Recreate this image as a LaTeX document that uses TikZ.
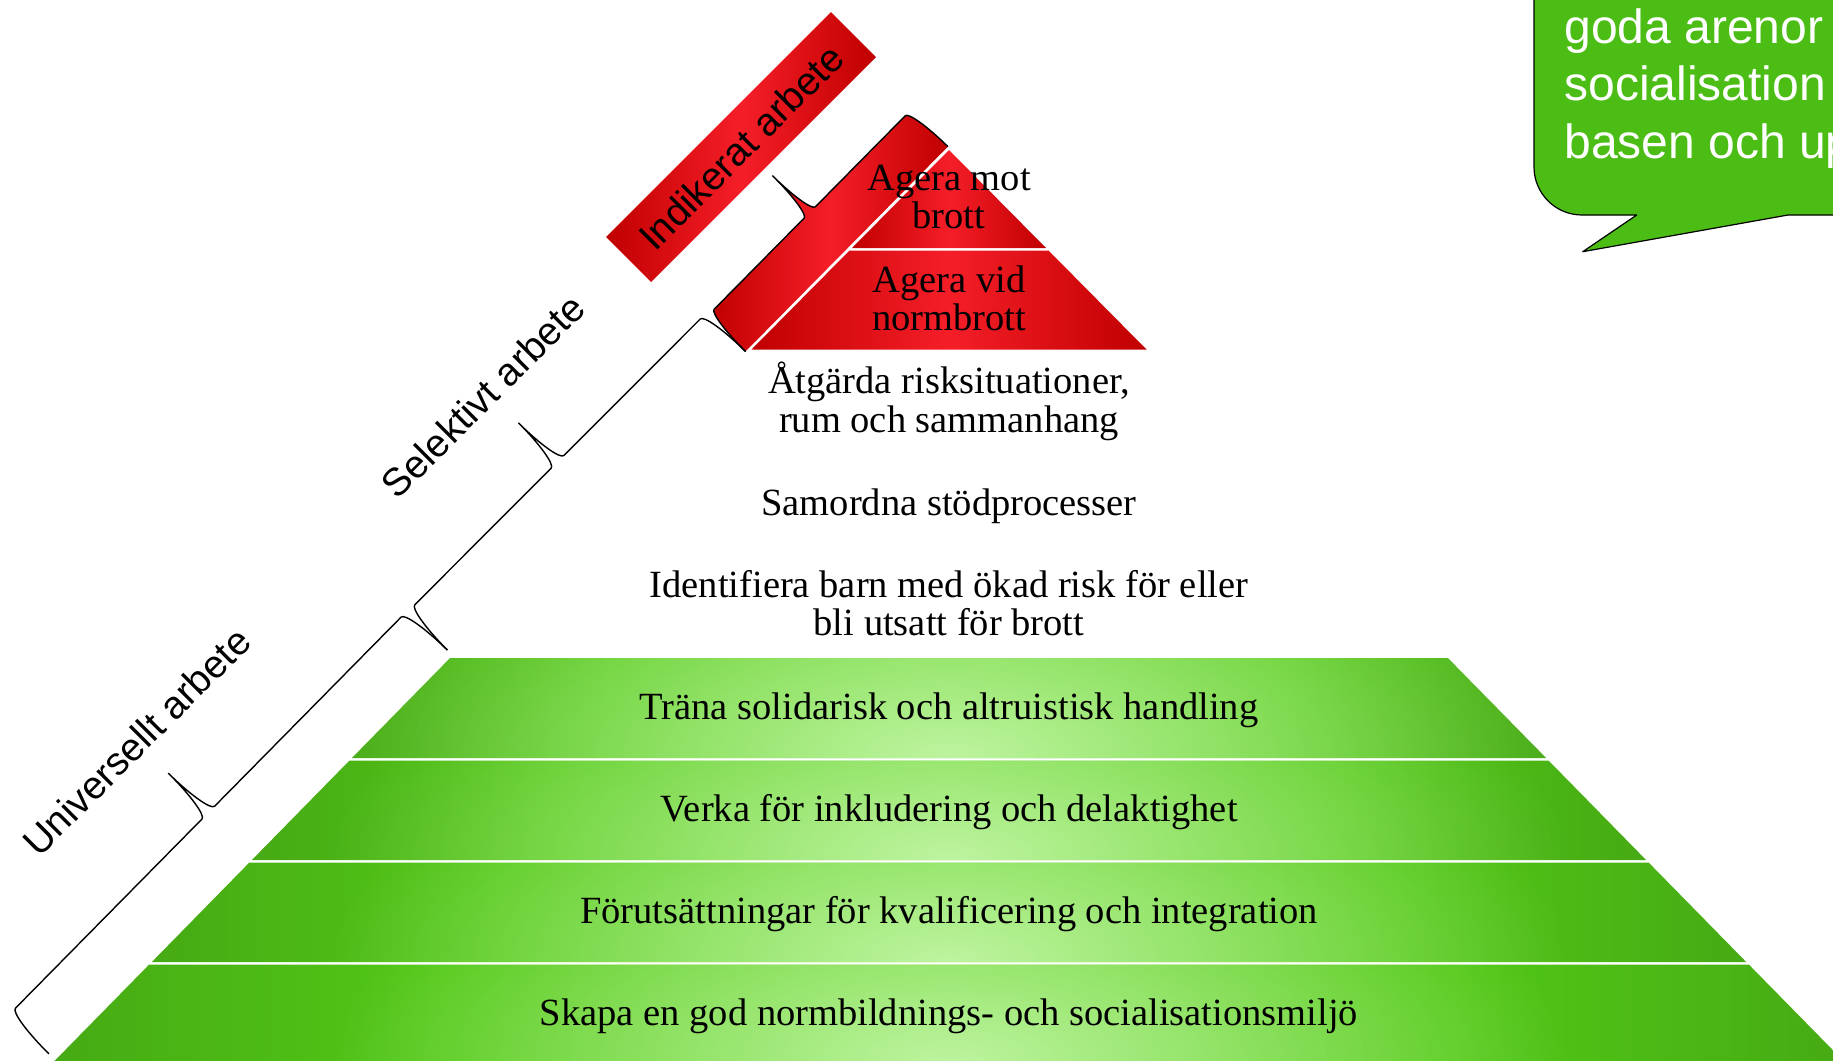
\documentclass[tikz,border=0pt]{standalone}
\usepackage{fontspec}
\setmainfont{Liberation Serif}
\setsansfont{Liberation Sans}
\usetikzlibrary{fadings}
\definecolor{gdark}{RGB}{38,100,8}
\definecolor{gdm}{RGB}{52,130,12}
\definecolor{gmid}{RGB}{70,170,20}
\definecolor{gbright}{RGB}{82,200,22}
\definecolor{gcenter}{RGB}{96,210,36}
\definecolor{gpale}{RGB}{190,244,160}
\definecolor{rdark}{RGB}{192,0,0}
\definecolor{rbright}{RGB}{245,30,40}
\definecolor{bubblegreen}{RGB}{76,189,21}
\pgfdeclarehorizontalshading{greenlayer}{100bp}{color(0bp)=(gdark); color(12bp)=(gdm); color(25bp)=(gmid); color(36bp)=(gbright); color(50bp)=(gcenter); color(64bp)=(gbright); color(75bp)=(gmid); color(88bp)=(gdm); color(100bp)=(gdark)}
\tikzfading[name=glowfade, inner color=transparent!0, outer color=transparent!100]
% brace curve in local coordinates: #1 = length, #2 = back offset, #3 = curl length
\newcommand\bracecurve[3]{(0,0) .. controls (0,{0.5523*#2}) and ({0.4477*#3},#2) .. (#3,#2)
 -- ({#1/2-#3},#2) .. controls ({#1/2-0.4477*#3},#2) and ({#1/2},{1.4477*#2}) .. ({#1/2},{2*#2})
 .. controls ({#1/2},{1.4477*#2}) and ({#1/2+0.4477*#3},#2) .. ({#1/2+#3},#2)
 -- ({#1-#3},#2) .. controls ({#1-0.4477*#3},#2) and (#1,{0.5523*#2}) .. (#1,0)}
\begin{document}
\begin{tikzpicture}[x=0.5pt,y=-0.5pt,
  serif/.style={font=\fontsize{19.25}{19}\selectfont, inner sep=0pt, anchor=base},
  sanslab/.style={font=\sffamily\fontsize{19.5}{23}\selectfont, inner sep=0pt, rotate=45},
  bubtext/.style={font=\sffamily\fontsize{24}{28}\selectfont, text=white, inner sep=0pt, anchor=base west},
  braceline/.style={draw=black, line width=0.7pt, line join=round},
  glayer/.style={shading=greenlayer},
  redlayer/.style={left color=rdark, right color=rdark, middle color=rbright},
  glow/.style={fill=gpale, path fading=glowfade}]
\useasboundingbox (0,0) rectangle (1833,1061);
\clip (0,0) rectangle (1833,1061);
\fill[white] (0,0) rectangle (1833,1061);

% green layers
\shade[glayer] (450.1,658) -- (1447.9,658) -- (1546.1,758) -- (351.9,758) -- cycle;
\begin{scope}\clip (450.1,658) -- (1447.9,658) -- (1546.1,758) -- (351.9,758) -- cycle;
\fill[glow] (949,758) ellipse [x radius=620, y radius=260];\end{scope}

\shade[glayer] (349.5,760.5) -- (1548.5,760.5) -- (1646.1,860) -- (251.9,860) -- cycle;
\begin{scope}\clip (349.5,760.5) -- (1548.5,760.5) -- (1646.1,860) -- (251.9,860) -- cycle;
\fill[glow] (949,860) ellipse [x radius=620, y radius=260];\end{scope}

\shade[glayer] (249.4,862.5) -- (1648.6,862.5) -- (1746.2,962) -- (151.8,962) -- cycle;
\begin{scope}\clip (249.4,862.5) -- (1648.6,862.5) -- (1746.2,962) -- (151.8,962) -- cycle;
\fill[glow] (949,962) ellipse [x radius=620, y radius=260];\end{scope}

\shade[glayer] (149.2,964.5) -- (1748.8,964.5) -- (1846.5,1064) -- (51.5,1064) -- cycle;
\begin{scope}\clip (149.2,964.5) -- (1748.8,964.5) -- (1846.5,1064) -- (51.5,1064) -- cycle;
\fill[glow] (949,1064) ellipse [x radius=620, y radius=260];\end{scope}

% red layers
\shade[redlayer] (949,150) -- (1046,248) -- (852,248) -- cycle;
\shade[redlayer] (849.5,250.5) -- (1048.5,250.5) -- (1146.5,349.5) -- (751.5,349.5) -- cycle;

% indicated brace (red filled): key points in the brace's own frame
\begin{scope}[shift={(947.9,146.6)}, rotate=225.35]
  \coordinate (i0) at (0,0);
  \coordinate (i0a) at (0,{0.5523*52});
  \coordinate (i0b) at ({0.4477*8},52);
  \coordinate (i1) at (8,52);
  \coordinate (i2) at (136,52);
  \coordinate (i2a) at ({144-0.4477*8},52);
  \coordinate (i2b) at (144,{1.4477*52});
  \coordinate (i3) at (144,104);
  \coordinate (i3a) at ({144+0.4477*8},52);
  \coordinate (i4) at (152,52);
  \coordinate (i5) at (280,52);
  \coordinate (i5a) at ({288-0.4477*8},52);
  \coordinate (i5b) at (288,{0.5523*52});
  \coordinate (i6) at (288,0);
\end{scope}
\shade[redlayer] (i0) .. controls (i0a) and (i0b) .. (i1) -- (i2) .. controls (i2a) and (i2b) .. (i3)
  .. controls (i2b) and (i3a) .. (i4) -- (i5) .. controls (i5a) and (i5b) .. (i6) -- cycle;
\draw[braceline] (i0) .. controls (i0a) and (i0b) .. (i1) -- (i2) .. controls (i2a) and (i2b) .. (i3)
  .. controls (i2b) and (i3a) .. (i4) -- (i5) .. controls (i5a) and (i5b) .. (i6);

% selective brace
\begin{scope}[shift={(745.5,351.5)}, rotate=225.03]
  \draw[braceline] \bracecurve{421.9}{55}{9};
\end{scope}
% universal brace
\begin{scope}[shift={(447.3,650)}, rotate=225.4]
  \draw[braceline] \bracecurve{567.3}{56}{9};
\end{scope}

% indicated box and rotated labels
\shade[redlayer] (830.9,12.1) -- (875.9,57.1) -- (651.1,281.9) -- (606.1,236.9) -- cycle;
\node[sanslab] (indik) at (741,147) {Indikerat arbete};
\node[sanslab] (selek) at (483,396) {Selektivt arbete};
\node[sanslab] (univ) at (136.5,741.5) {Universellt arbete};

% texts
\node[serif] (agmot1) at (949,190) {Agera mot};
\node[serif] (agmot2) at (949,228) {brott};
\node[serif] (agvid1) at (949,292) {Agera vid};
\node[serif] (agvid2) at (949,330) {normbrott};
\node[serif] (atg1) at (949,393) {Åtgärda risksituationer,};
\node[serif] (atg2) at (949,432) {rum och sammanhang};
\node[serif] (samo) at (949,515) {Samordna stödprocesser};
\node[serif] (ident1) at (949,597) {Identifiera barn med ökad risk för eller};
\node[serif] (ident2) at (949,635) {bli utsatt för brott};
\node[serif] (trana) at (949,719) {Träna solidarisk och altruistisk handling};
\node[serif] (verka) at (949,821.5) {Verka för inkludering och delaktighet};
\node[serif] (forut) at (949,923) {Förutsättningar för kvalificering och integration};
\node[serif] (skapa) at (949,1025) {Skapa en god normbildnings- och socialisationsmiljö};

% speech bubble
\filldraw[fill=bubblegreen, draw=black, line width=0.6pt, line join=round]
  (1534,-20) -- (1534,167) .. controls (1534,193.5) and (1555.5,215) .. (1582,215)
  -- (1636.7,215) -- (1582.7,251.7) -- (1788,215) -- (1860,215) -- (1860,-20) -- cycle;
\node[bubtext] (bub1) at (1564,43) {goda arenor};
\node[bubtext] (bub2) at (1564,100) {socialisation};
\node[bubtext] (bub3) at (1564,158) {basen och up};
\end{tikzpicture}
\end{document}
